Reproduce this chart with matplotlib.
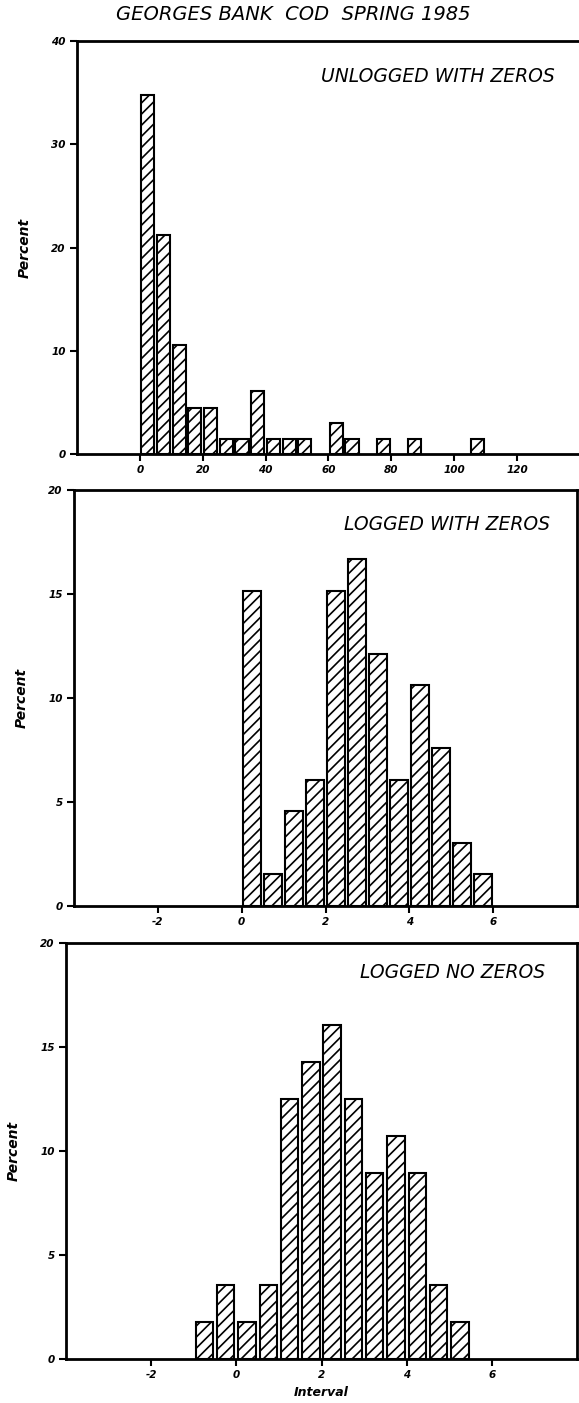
import matplotlib.pyplot as plt

# Georges Bank cod, spring 1985 survey: percent of tows per catch interval
raw_mid = [2.5, 7.5, 12.5, 17.5, 22.5, 27.5, 32.5, 37.5, 42.5, 47.5, 52.5,
           62.5, 67.5, 77.5, 87.5, 107.5]
raw_pct = [34.8, 21.2, 10.6, 4.5, 4.5, 1.5, 1.5, 6.1, 1.5, 1.5, 1.5,
           3.0, 1.5, 1.5, 1.5, 1.5]

logz_mid = [0.25, 0.75, 1.25, 1.75, 2.25, 2.75, 3.25, 3.75, 4.25, 4.75, 5.25, 5.75]
logz_pct = [15.15, 1.52, 4.55, 6.06, 15.15, 16.67, 12.12, 6.06, 10.61, 7.58, 3.03, 1.52]

lognz_mid = [-0.75, -0.25, 0.25, 0.75, 1.25, 1.75, 2.25, 2.75, 3.25, 3.75, 4.25, 4.75, 5.25]
lognz_pct = [1.79, 3.57, 1.79, 3.57, 12.5, 14.29, 16.07, 12.5, 8.93, 10.71, 8.93, 3.57, 1.79]

panel_names = ["UNLOGGED WITH ZEROS", "LOGGED WITH ZEROS", "LOGGED NO ZEROS"]

LETTER = ["Liberation Sans Narrow", "DejaVu Sans"]
plt.rcParams["hatch.linewidth"] = 1.2
plt.rcParams["axes.unicode_minus"] = False

W, H = 579, 1403
fig = plt.figure(figsize=(W / 100, H / 100), dpi=100)


def box(l, t, r, b):
    return [l / W, 1 - b / H, (r - l) / W, (b - t) / H]


def style(ax, ylim, yticks, xticks):
    ax.set_ylim(*ylim)
    ax.set_yticks(yticks)
    ax.set_xticks(xticks)
    for s in ax.spines.values():
        s.set_linewidth(2.0)
    ax.tick_params(direction="out", length=5, width=1.5, pad=3, labelsize=7.5)
    for lab in ax.get_xticklabels() + ax.get_yticklabels():
        lab.set_fontstyle("italic")
        lab.set_fontweight("bold")
    ax.set_ylabel("Percent", fontsize=10, fontstyle="italic", fontweight="bold",
                  labelpad=14)


def bars(ax, mids, pct, width):
    ax.bar(mids, pct, width=width, color="white", edgecolor="black",
           linewidth=1.5, hatch="///", zorder=2)


ax1 = fig.add_axes(box(77, 41, 583, 454))
bars(ax1, raw_mid, raw_pct, 4.2)
ax1.set_xlim(-20, 141)
style(ax1, (0, 40), [0, 10, 20, 30, 40], [0, 20, 40, 60, 80, 100, 120])

ax2 = fig.add_axes(box(74, 490, 577, 906))
bars(ax2, logz_mid, logz_pct, 0.43)
ax2.set_xlim(-4, 8)
style(ax2, (0, 20), [0, 5, 10, 15, 20], [-2, 0, 2, 4, 6])

ax3 = fig.add_axes(box(66, 943, 577, 1359))
bars(ax3, lognz_mid, lognz_pct, 0.41)
ax3.set_xlim(-4, 8)
style(ax3, (0, 20), [0, 5, 10, 15, 20], [-2, 0, 2, 4, 6])
ax3.set_xlabel("Interval", fontsize=9, fontstyle="italic", fontweight="bold",
               labelpad=4)

fig.text(293 / W, 1 - 15 / H, "GEORGES BANK  COD  SPRING 1985", family=LETTER,
         fontsize=14, fontstyle="italic", ha="center", va="center")
for (x, y), name in zip([(555, 77), (550, 525), (545, 973)], panel_names):
    fig.text(x / W, 1 - y / H, name, family=LETTER, fontsize=13.5,
             fontstyle="italic", ha="right", va="center")

fig.savefig("out.png", dpi=100)
